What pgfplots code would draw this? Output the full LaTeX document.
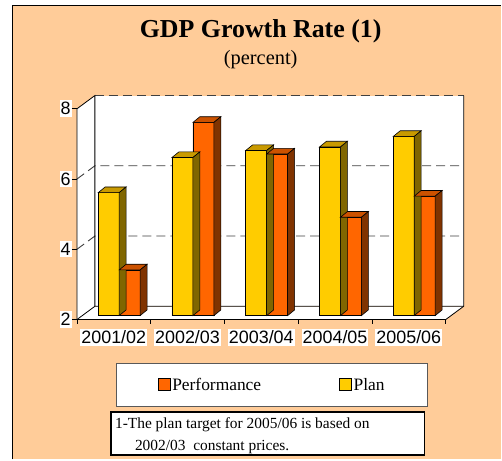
\documentclass[border=0pt]{standalone}
\usepackage{pgfplots}
\usepackage{pgfplotstable}
\usepackage{fontspec}
\setmainfont{Liberation Serif}
\newfontfamily\arialfont{Liberation Sans}
\pgfplotsset{compat=1.18}
\definecolor{bg}{HTML}{FFCC99}
\definecolor{planfront}{HTML}{FFCC00}
\definecolor{plantop}{HTML}{C99A00}
\definecolor{planside}{HTML}{806600}
\definecolor{perffront}{HTML}{FF6600}
\definecolor{perftop}{HTML}{CC5200}
\definecolor{perfside}{HTML}{803300}
\definecolor{gridgray}{HTML}{404040}

\pgfplotstableread{
i v
0 5.5
1 6.5
2 6.7
3 6.8
4 7.1
}\plandata
\pgfplotstableread{
i v
0 3.3
1 7.5
2 6.6
3 4.8
4 5.4
}\perfdata

\pgfplotsset{
  sqlegend/.style={legend image code/.code={\filldraw[##1] (0bp,-5.5bp) rectangle (12bp,6.5bp);}},
  box3d/.style 2 args={
    scatter, only marks, mark=*, mark size=0pt,
    mark options={draw=none, fill=none},
    visualization depends on={\thisrow{v} \as \barval},
    scatter/@pre marker code/.code={%
      \pgfmathsetmacro\hb{-(\barval-2)*35.17}%
      \pgfmathsetmacro\hbb{\hb+5.7}%
      \filldraw[fill=#1, draw=black, line width=0.6bp] (-10.5bp,0bp) -- (10.5bp,0bp) -- (17.5bp,5.7bp) -- (-3.5bp,5.7bp) -- cycle;
      \filldraw[fill=#2, draw=black, line width=0.6bp] (10.5bp,0bp) -- (17.5bp,5.7bp) -- (17.5bp,\hbb bp) -- (10.5bp,\hb bp) -- cycle;
    },
    scatter/@post marker code/.code={},
  }
}

\begin{document}
\begin{tikzpicture}[x=1bp,y=1bp]
\fill[white] (0,0) rectangle (502,460);
\fill[bg] (12.5,0) rectangle (502,454.5);
\draw[black, line width=1.3bp] (12.5,0) -- (12.5,454.5) -- (502,454.5);

\node[anchor=base, font=\fontsize{26}{30}\selectfont\bfseries] at (261,422.7) {GDP Growth Rate (1)};
\node[anchor=base, font=\fontsize{20.5}{24}\selectfont] at (261,395) {(percent)};

\begin{axis}[
  at={(82.4bp,144bp)}, anchor=south west,
  x=73.85bp, y=35.17bp,
  xmin=-0.5, xmax=4.5, ymin=0, ymax=6,
  enlargelimits=false, clip=false,
  axis lines=left, axis line style={draw=none,-},
  major tick length=0pt, tick style={draw=none},
  xtick={0,1,2,3,4},
  xticklabels={2001/02,2002/03,2003/04,2004/05,2005/06},
  ytick={0,2,4,6}, yticklabels={2,4,6,8},
  xticklabel style={anchor=north, fill=white, inner xsep=1bp, inner ysep=2bp,
    xshift=-5.4bp, yshift=-13bp, font=\arialfont\fontsize{18}{20}\selectfont},
  yticklabel style={anchor=east, fill=white, inner xsep=1bp, inner ysep=2bp,
    xshift=-10.4bp, yshift=-4bp, font=\arialfont\fontsize{18}{20}\selectfont},
  legend style={at={(0.5148,-0.3284)}, anchor=center, draw=black!65, fill=white,
    line width=0.8bp,
    legend columns=2, font=\fontsize{17.5}{20}\selectfont,
    inner xsep=41bp, inner ysep=13bp,
    /tikz/every even column/.append style={column sep=76bp}},
  legend cell align=left,
]
% walls and floor
\addplot[fill=white, draw=none, forget plot] coordinates {(-0.3294,0.2644) (4.6706,0.2644) (4.6706,6.2644) (-0.3294,6.2644)} --cycle;
\addplot[fill=white, draw=none, forget plot] coordinates {(-0.5731,-0.1137) (-0.3294,0.2644) (-0.3294,6.2644) (-0.5731,5.8863)} --cycle;
\addplot[fill=white, draw=none, forget plot] coordinates {(-0.5731,-0.1137) (4.4269,-0.1137) (4.6706,0.2644) (-0.3294,0.2644)} --cycle;
% gridlines
\addplot[gridgray, line width=0.9bp, dash pattern=on 9bp off 5bp, forget plot] coordinates {(-0.5731,1.8863) (-0.3294,2.2644) (4.6706,2.2644)};
\addplot[gridgray, line width=0.9bp, dash pattern=on 9bp off 5bp, forget plot] coordinates {(-0.5731,3.8863) (-0.3294,4.2644) (4.6706,4.2644)};
\addplot[gridgray, line width=0.9bp, dash pattern=on 9bp off 5bp, forget plot] coordinates {(-0.3294,6.2644) (4.6706,6.2644)};
% outlines
\addplot[black, line width=0.8bp, forget plot] coordinates {(-0.5731,-0.1137) (-0.5731,5.8863) (-0.3294,6.2644) (-0.3294,0.2644) (4.6706,0.2644) (4.6706,6.2644)};
\addplot[black, line width=0.8bp, forget plot] coordinates {(-0.5731,-0.1137) (4.4269,-0.1137) (4.6706,0.2644)};
\addplot[black, line width=0.8bp, forget plot] coordinates {(-0.5731,-0.1137) (-0.3294,0.2644)};
% tick marks
\addplot[black, line width=0.8bp, forget plot, unbounded coords=jump] coordinates {
 (-0.5731,-0.1137) (-0.5731,-0.2274) (nan,nan)
 (0.4269,-0.1137) (0.4269,-0.2274) (nan,nan)
 (1.4269,-0.1137) (1.4269,-0.2274) (nan,nan)
 (2.4269,-0.1137) (2.4269,-0.2274) (nan,nan)
 (3.4269,-0.1137) (3.4269,-0.2274) (nan,nan)
 (4.4269,-0.1137) (4.4269,-0.2274)};
\addplot[black, line width=0.8bp, forget plot, unbounded coords=jump] coordinates {
 (-0.6408,-0.1137) (-0.5731,-0.1137) (nan,nan)
 (-0.6408,1.8863) (-0.5731,1.8863) (nan,nan)
 (-0.6408,3.8863) (-0.5731,3.8863) (nan,nan)
 (-0.6408,5.8863) (-0.5731,5.8863)};
% bars: plan
\addplot[ybar, bar width=0.2844, bar shift=0pt, fill=planfront, draw=black, line width=0.6bp, forget plot]
  table[x expr=\thisrow{i}-0.1422, y expr=\thisrow{v}-2] {\plandata};
\addplot[box3d={plantop}{planside}, forget plot]
  table[x expr=\thisrow{i}-0.1422, y expr=\thisrow{v}-2] {\plandata};
% bars: performance
\addplot[ybar, bar width=0.2844, bar shift=0pt, fill=perffront, draw=black, line width=0.6bp, forget plot]
  table[x expr=\thisrow{i}+0.1422, y expr=\thisrow{v}-2] {\perfdata};
\addplot[box3d={perftop}{perfside}, forget plot]
  table[x expr=\thisrow{i}+0.1422, y expr=\thisrow{v}-2] {\perfdata};
% legend
\addlegendimage{sqlegend, fill=perffront, draw=black, line width=0.6bp}
\addlegendentry{Performance}
\addlegendimage{sqlegend, fill=planfront, draw=black, line width=0.6bp}
\addlegendentry{Plan}
\end{axis}

% footnote
\draw[black, line width=1.8bp, fill=white] (111,4.3) rectangle (425,47.7);
\node[anchor=base west, inner sep=0pt, font=\fontsize{15.5}{18}\selectfont] at (115,30.7) {1-The plan target for 2005/06 is based on};
\node[anchor=base west, inner sep=0pt, font=\fontsize{15.5}{18}\selectfont] at (135,9) {2002/03\ \ constant prices.};
\end{tikzpicture}
\end{document}
